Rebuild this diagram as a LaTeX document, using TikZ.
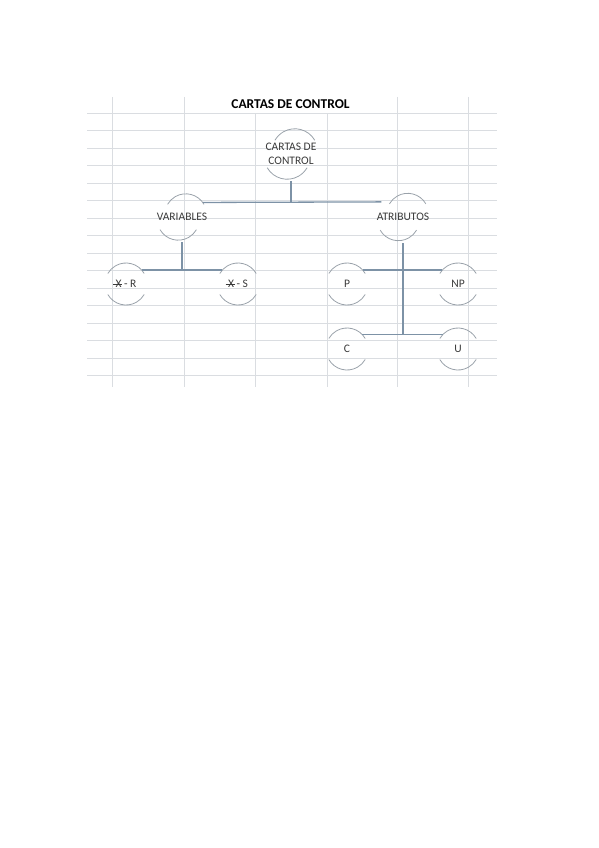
\documentclass[tikz,border=0pt]{standalone}
\usepackage{fontspec}
\setmainfont{Carlito}
\definecolor{gridgray}{HTML}{DADDE1}
\definecolor{arcgray}{HTML}{9AA2AA}
\definecolor{linkblue}{HTML}{7D92A6}
\definecolor{textgray}{HTML}{3A3A3A}
\newcommand{\xbarsym}{\makebox[0pt][l]{\kern-0.2em\rule[0.65ex]{0.8em}{0.5pt}}X}

\begin{document}
\begin{tikzpicture}[x=1pt,y=1pt]
        \tikzstyle{grid_style} = [gridgray, line width=0.7]
        \tikzstyle{node_style} = [circle, minimum size=42pt, inner sep=0, outer sep=0, text=textgray, font=\fontsize{11.5}{13.5}\selectfont, align=center]
        \tikzstyle{arc_style} = [arcgray, line width=0.8]
        \tikzstyle{link_style} = [linkblue, line width=1.3]

        \useasboundingbox (0,0) rectangle (599,-848);

        % The sheet grid behind
        \foreach \k in {0,...,15}
            \draw[grid_style] (87,{-113.3-17.5*\k}) -- (497,{-113.3-17.5*\k});
        \foreach \x in {112,184,397,468}
            \draw[grid_style] (\x,-97) -- (\x,-387);
        \foreach \x in {255,327}
            \draw[grid_style] (\x,-113.3) -- (\x,-387);

        % Title on top
        \node[font=\bfseries\fontsize{13.5}{15}\selectfont] (title) at (290.5,-104) {CARTAS DE CONTROL};

        % Then the charts
        \node[node_style, minimum size=46pt] (cartas) at (291,-154) {CARTAS DE\\CONTROL};
        \node[node_style] (variables) at (182,-217) {VARIABLES};
        \node[node_style] (atributos) at (403,-217) {ATRIBUTOS};
        \node[node_style] (xr) at (126,-284) {\xbarsym{} - R};
        \node[node_style] (xs) at (238,-284) {\xbarsym{} - S};
        \node[node_style] (p) at (347,-284) {P};
        \node[node_style] (np) at (458,-284) {NP};
        \node[node_style] (c) at (347,-349) {C};
        \node[node_style] (u) at (458,-349) {U};

        % only the top and bottom arcs of each circle
        \foreach \n/\r in {cartas/23,variables/21,atributos/21,xr/21,xs/21,p/21,np/21,c/21,u/21}
        {
            \draw[arc_style] (\n.30) arc[start angle=30, end angle=150, radius=\r];
            \draw[arc_style] (\n.210) arc[start angle=210, end angle=330, radius=\r];
        }

        \draw[link_style] (cartas.south) -- (cartas.south |- variables.35);
        \draw[link_style] (variables.35) -- (atributos.145);
        \draw[link_style] (variables.south) -- (variables.south |- xr.42);
        \draw[link_style] (xr.42) -- (xs.138);
        \draw[link_style] (atributos.south) -- (atributos.south |- c.45);
        \draw[link_style] (p.42) -- (np.138);
        \draw[link_style] (c.45) -- (u.135);
    \end{tikzpicture}
\end{document}
